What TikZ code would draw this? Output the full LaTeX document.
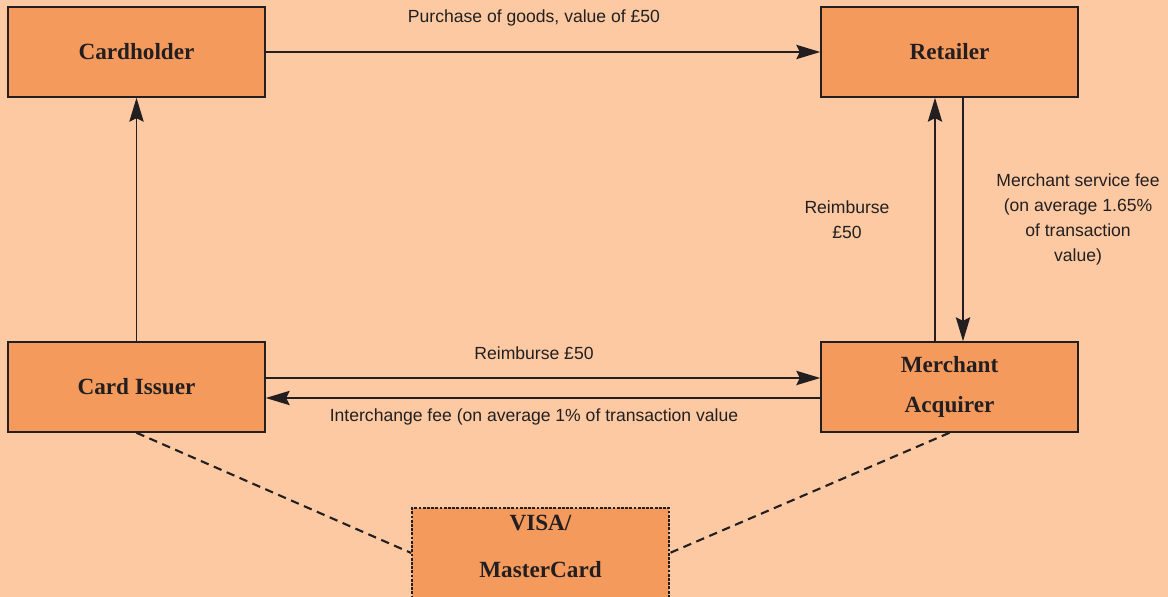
\documentclass[tikz,border=0pt]{standalone}
\usepackage{fontspec}
\setmainfont{Liberation Serif}
\setsansfont{Liberation Sans}
\usetikzlibrary{arrows.meta, positioning}
\definecolor{cbg}{HTML}{FDC9A3}
\definecolor{cbox}{HTML}{F59A5D}
\definecolor{cline}{HTML}{231F20}
\tikzset{
  every picture/.style={line width=0.85pt},
  party/.style={draw=cline, fill=cbox, line width=1.1pt, minimum width=6.425cm, minimum height=2.25cm, inner sep=0pt, align=center, text=cline, font=\fontsize{16.5}{28}\selectfont\bfseries},
  flow/.style={-{Stealth[length=6mm, width=3.6mm, inset=0.9mm]}, draw=cline},
  link/.style={draw=cline, dash pattern=on 6pt off 4pt, line width=1.5pt},
  note/.style={font=\sffamily\fontsize{12.5}{17.8}\selectfont, text=cline, align=center, inner sep=1pt},
}

\begin{document}
\begin{tikzpicture}
  \useasboundingbox (0,0) rectangle (29.2,-14.925);
  \fill[cbg] (0,0) rectangle (29.2,-14.925);
  % the parties of a card payment
  \node[party] (holder) at (3.4125,-1.3) {Cardholder};
  \node[party] (retailer) at (23.7375,-1.3) {Retailer};
  \node[party] (issuer) at (3.4125,-9.675) {Card Issuer};
  \node[party] (acquirer) at (23.7375,-9.675) {Merchant\\Acquirer};
  \node[party, dash pattern=on 2pt off 1pt] (scheme) at (13.5125,-13.825) {VISA/\\[5pt]MasterCard\rule[-9.5pt]{0pt}{0pt}};
  % money and goods
  \draw[flow] (holder) -- (retailer) node[note, midway, yshift=0.85cm, xshift=-0.225cm] {Purchase of goods, value of £50};
  \draw[flow] (issuer) -- (holder);
  \draw[flow] ([xshift=-0.3625cm]acquirer.north) -- ([xshift=-0.3625cm]retailer.south) node[note, midway, xshift=-2.2cm] {Reimburse\\£50};
  \draw[flow] ([xshift=0.3375cm]retailer.south) -- ([xshift=0.3375cm]acquirer.north) node[note, midway, xshift=2.875cm] {Merchant service fee\\(on average 1.65\%\\of transaction\\value)};
  \draw[flow] ([yshift=0.225cm]issuer.east) -- ([yshift=0.225cm]acquirer.west) node[note, midway, yshift=0.625cm, xshift=-0.225cm] {Reimburse £50};
  \draw[flow] ([yshift=-0.275cm]acquirer.west) -- ([yshift=-0.275cm]issuer.east) node[note, midway, yshift=-0.475cm, xshift=-0.225cm] {Interchange fee (on average 1\% of transaction value};
  % card scheme
  \draw[link] (issuer.south) -- (scheme.west);
  \draw[link] (acquirer.south) -- (scheme.east);
\end{tikzpicture}
\end{document}
